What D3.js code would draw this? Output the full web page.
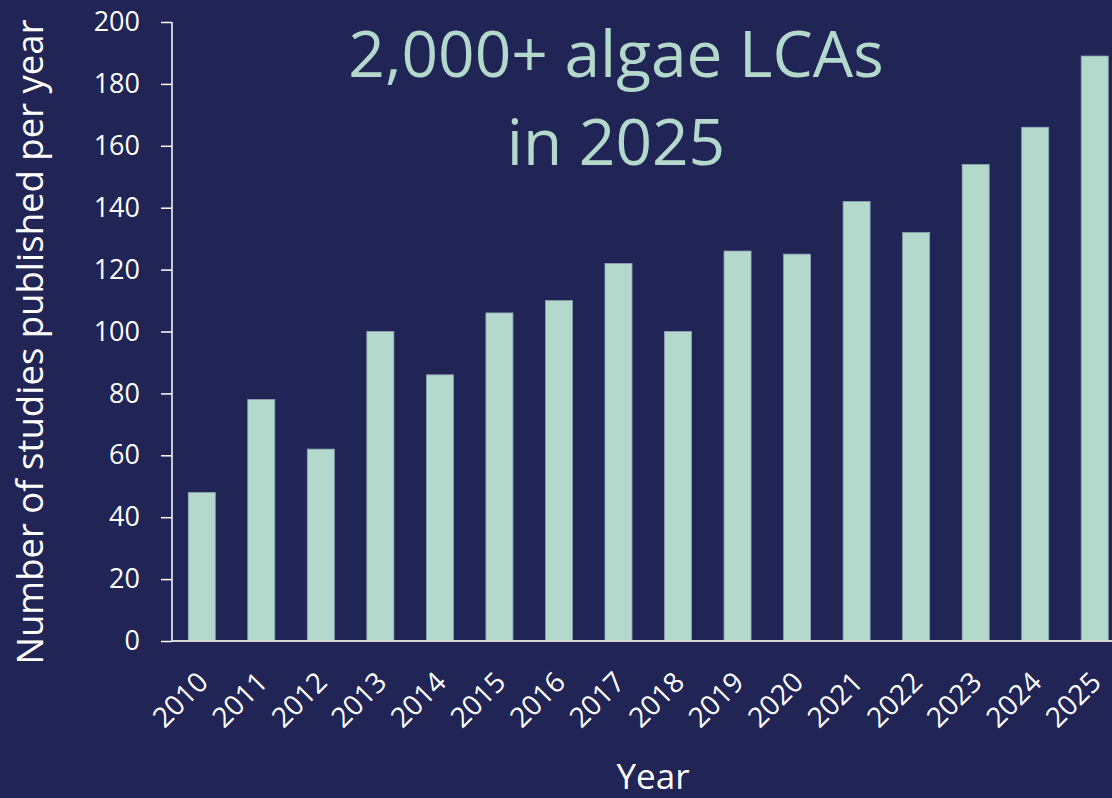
<!DOCTYPE html>
<html>
<head>
<meta charset="utf-8">
<script src="https://cdn.jsdelivr.net/npm/d3@7"></script>
<style>
  html, body { margin: 0; padding: 0; background: #212556; }
  svg { display: block; font-family: 'Open Sans', sans-serif; }
</style>
</head>
<body>
<div id="chart"></div>
<script>
const years = ['2010', '2011', '2012', '2013', '2014', '2015', '2016', '2017',
  '2018', '2019', '2020', '2021', '2022', '2023', '2024', '2025'];
const studies = [48, 78, 62, 100, 86, 106, 110, 122, 100, 126, 125, 142, 132, 154, 166, 189];
const yTicks = [0, 20, 40, 60, 80, 100, 120, 140, 160, 180, 200];
const titleLines = ['2,000+ algae LCAs', 'in 2025'];

const width = 1112;
const height = 798;
const margin = { top: 22, right: -12.5, bottom: 157, left: 172 };
const innerW = width - margin.left - margin.right;
const innerH = height - margin.top - margin.bottom;

const bg = '#212556';
const barColor = '#b2d9cb';

const svg = d3.select('#chart')
  .append('svg')
  .attr('width', width)
  .attr('height', height);

svg.append('rect')
  .attr('width', width)
  .attr('height', height)
  .attr('fill', bg);

const g = svg.append('g')
  .attr('transform', `translate(${margin.left},${margin.top})`);

const x = d3.scaleBand()
  .domain(years)
  .range([0, innerW])
  .paddingInner(0.546)
  .paddingOuter(0.273);

const y = d3.scaleLinear()
  .domain([0, 200])
  .range([innerH, 0]);

// bars
g.selectAll('.bar')
  .data(years.map((yr, i) => ({ yr, v: studies[i] })))
  .enter()
  .append('rect')
  .attr('class', 'bar')
  .attr('x', (d) => x(d.yr))
  .attr('y', (d) => y(d.v))
  .attr('width', x.bandwidth())
  .attr('height', (d) => innerH - y(d.v))
  .attr('fill', barColor)
  .attr('stroke', '#8ea5b2')
  .attr('stroke-width', 0.8);

// y axis
const yAxis = g.append('g')
  .call(d3.axisLeft(y).tickValues(yTicks).tickSize(11).tickPadding(21));
yAxis.select('.domain').attr('stroke', '#ffffff').attr('stroke-width', 1.5)
  .attr('d', `M0,${y(200)}V${innerH}`);
yAxis.selectAll('.tick line').attr('stroke', '#ffffff').attr('stroke-width', 1.5);
yAxis.selectAll('.tick text')
  .attr('fill', '#ffffff')
  .style('font-size', '27px')
  .style('font-family', "'Open Sans', sans-serif");

// x axis
const xAxis = g.append('g')
  .attr('transform', `translate(0,${innerH})`)
  .call(d3.axisBottom(x).tickSize(0));
xAxis.select('.domain').attr('stroke', '#d6d6d6').attr('stroke-width', 2)
  .attr('d', `M0,0H${innerW}`);
xAxis.selectAll('.tick text')
  .attr('fill', '#ffffff')
  .attr('text-anchor', 'end')
  .attr('dy', null)
  .attr('y', null)
  .attr('transform', 'translate(8,43) rotate(-45)')
  .style('font-size', '28px')
  .style('font-family', "'Open Sans', sans-serif");

// axis titles
svg.append('text')
  .attr('transform', 'translate(43,342) rotate(-90)')
  .attr('text-anchor', 'middle')
  .attr('fill', '#ffffff')
  .style('font-size', '36.5px')
  .text('Number of studies published per year');

svg.append('text')
  .attr('x', 653)
  .attr('y', 789)
  .attr('text-anchor', 'middle')
  .attr('fill', '#ffffff')
  .style('font-size', '35px')
  .text('Year');

// big title
svg.selectAll('.headline')
  .data(titleLines)
  .enter()
  .append('text')
  .attr('class', 'headline')
  .attr('x', 616)
  .attr('y', (d, i) => 77 + i * 88)
  .attr('text-anchor', 'middle')
  .attr('fill', barColor)
  .style('font-size', '64px')
  .text((d) => d);
</script>
</body>
</html>
